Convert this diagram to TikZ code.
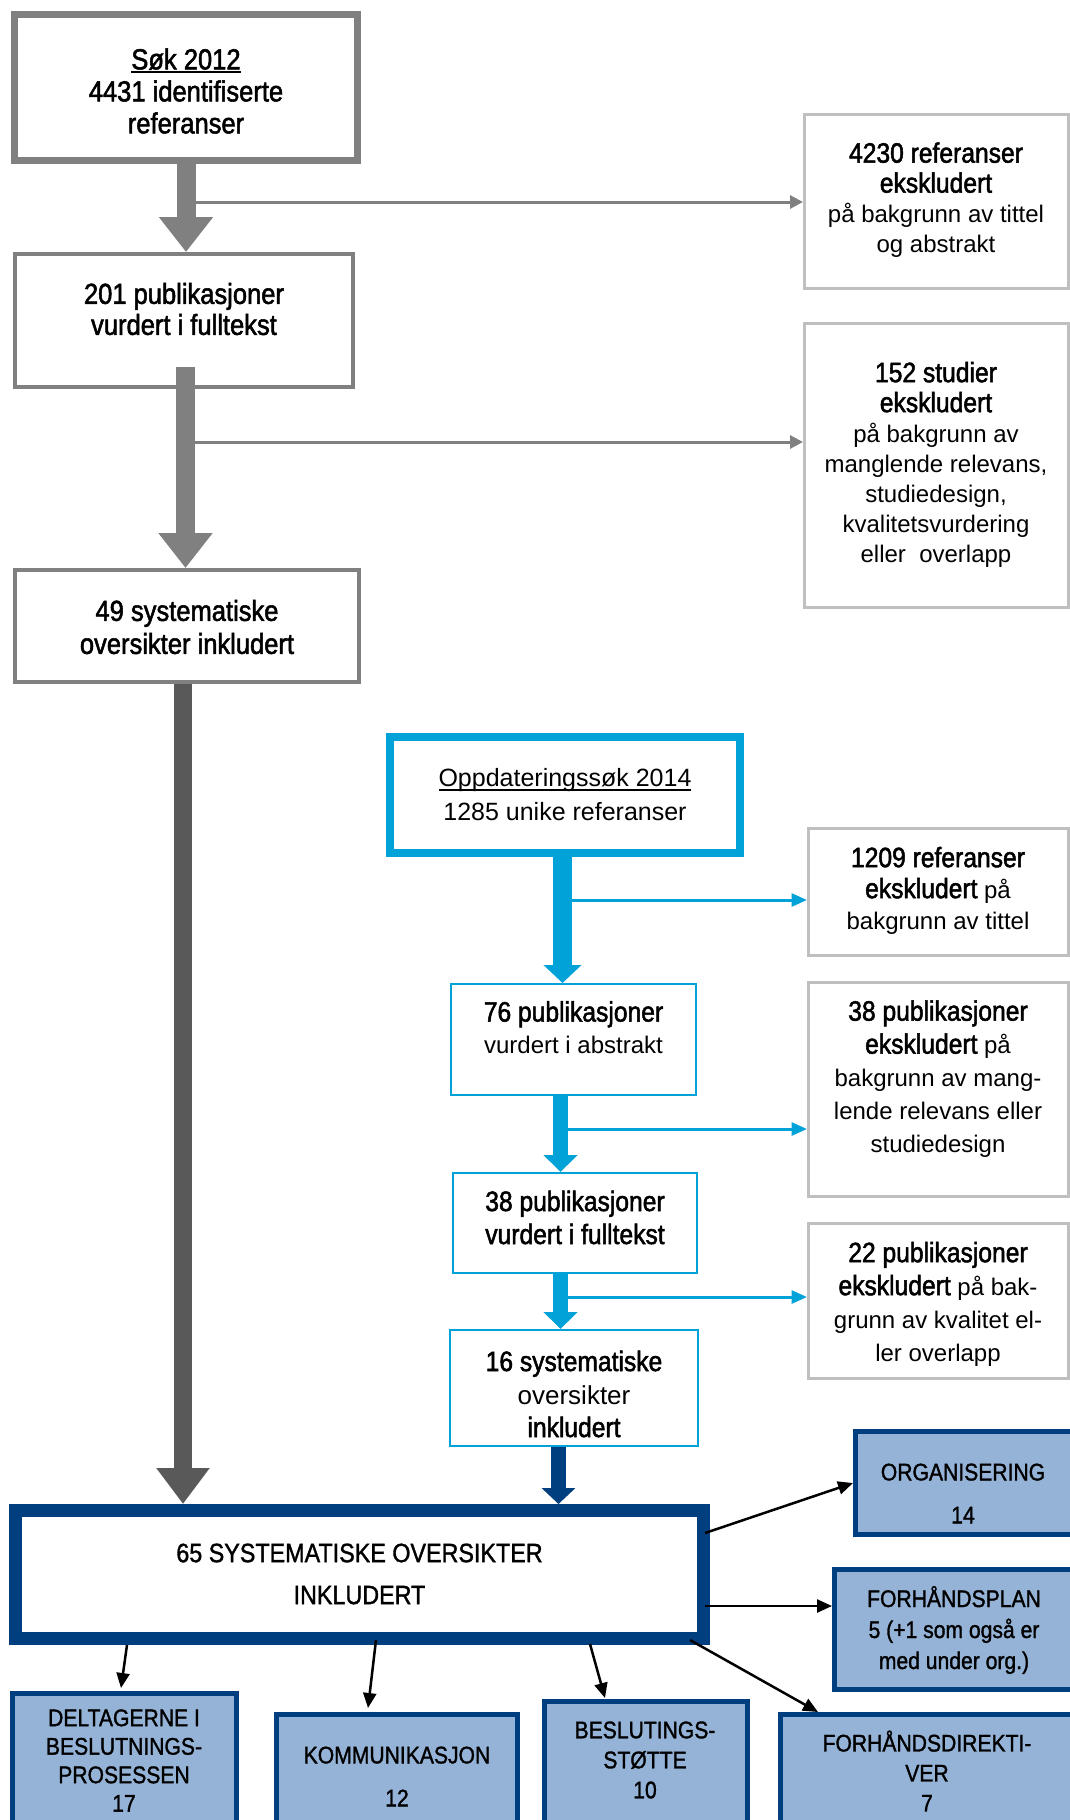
\documentclass[tikz,border=0pt]{standalone}
\usepackage{fontspec}
\setmainfont{Liberation Sans}
\newfontfamily\hvyfont[FakeStretch=0.88,FakeBold=1.8]{Liberation Sans}
\newfontfamily\catfont[FakeStretch=0.88,FakeBold=1.3]{Liberation Sans}
\usetikzlibrary{arrows.meta,calc}

\definecolor{midgray}{RGB}{128,128,128}
\definecolor{darkgraycol}{RGB}{89,89,89}
\definecolor{lightgraycol}{RGB}{191,191,191}
\definecolor{cyanblue}{RGB}{0,162,216}
\definecolor{navy}{RGB}{0,63,127}
\definecolor{catfill}{RGB}{149,179,215}

% underline with a visible rule
\newsavebox\undlbox
\newcommand\undl[1]{\sbox\undlbox{#1}\rlap{\rule[-4pt]{\wd\undlbox}{2pt}}\usebox\undlbox}
% condensed, larger face used for the leading words
\newcommand\hv[2][28]{{\hvyfont\fontsize{#1}{30}\selectfont #2}}

\tikzset{
  grbox/.style={draw=midgray, fill=white, line width=4pt, inner sep=0pt},
  exbox/.style={draw=lightgraycol, fill=white, line width=3pt, inner sep=0pt},
  cybox/.style={draw=cyanblue, fill=white, line width=2pt, inner sep=0pt},
  catbox/.style={draw=navy, fill=catfill, line width=5pt, inner sep=0pt},
  tx/.style={align=center, inner sep=0pt, font=\fontsize{24}{#1}\selectfont},
  ctx/.style={align=center, inner sep=0pt, font=\catfont\fontsize{24}{#1}\selectfont},
  grayflow/.style={midgray, line width=19pt, -{Triangle[length=35pt,width=52pt]}},
  darkflow/.style={darkgraycol, line width=18.5pt, -{Triangle[length=36pt,width=51pt]}},
  cyflowA/.style={cyanblue, line width=19pt, -{Triangle[length=18pt,width=37pt]}},
  cyflowB/.style={cyanblue, line width=15.5pt, -{Triangle[length=17pt,width=33pt]}},
  navyflow/.style={navy, line width=15pt, -{Triangle[length=16pt,width=33pt]}},
  grthin/.style={midgray, line width=3pt, -{Triangle[length=13pt,width=13pt]}},
  cythin/.style={cyanblue, line width=3pt, -{Triangle[length=15.5pt,width=13pt]}},
  catarrow/.style={black, line width=2.5pt, -{Triangle[length=15pt,width=13pt]}},
}

\begin{document}
\begin{tikzpicture}[x=1pt, y=-1pt]
\useasboundingbox (0,0) rectangle (1069,1820);
\fill[white] (0,0) rectangle (1069,1820);

% ---------- search 2012 ----------
\node[grbox, line width=7pt, minimum width=343pt, minimum height=146pt] (sok) at (186,87.5) {};
\node[tx=32] (sokt) at (186,91) {\hv[29]{\undl{Søk 2012}}\\\hv[29]{4431 identifiserte}\\\hv[29]{referanser}};

\node[grbox, minimum width=338pt, minimum height=133pt] (p201) at (184,320.5) {};
\node[tx=31] (p201t) at (184,309) {\hv[29]{201 publikasjoner}\\\hv[29]{vurdert i fulltekst}};

\node[grbox, minimum width=344pt, minimum height=112pt] (p49) at (187,626) {};
\node[tx=33] (p49t) at (187,627) {\hv[29]{49 systematiske}\\\hv[29]{oversikter inkludert}};

\node[exbox, minimum width=263.5pt, minimum height=174pt] (ex1) at (936.25,201.5) {};
\node[tx=30] (ex1t) at (936,200) {\hv{4230 referanser}\\\hv{ekskludert}\\på bakgrunn av tittel\\og abstrakt};

\node[exbox, minimum width=263.5pt, minimum height=284pt] (ex2) at (936.25,465.5) {};
\node[tx=30] (ex2t) at (936,464.5) {\hv{152 studier}\\\hv{ekskludert}\\på bakgrunn av\\manglende relevans,\\studiedesign,\\kvalitetsvurdering\\eller~ overlapp};

% ---------- update search 2014 ----------
\node[cybox, line width=8pt, minimum width=350pt, minimum height=116pt] (upd) at (565,795) {};
\node[align=center, inner sep=0pt, font=\fontsize{25}{34}\selectfont] (updt) at (565,795) {\undl{Oppdateringssøk 2014}\\1285 unike referanser};

\node[exbox, minimum width=259.5pt, minimum height=127pt] (ex3) at (938.25,892) {};
\node[tx=31] (ex3t) at (938,890.5) {\hv{1209 referanser}\\\hv{ekskludert} på\\bakgrunn av tittel};

\node[cybox, minimum width=245pt, minimum height=111pt] (p76) at (573.5,1039.5) {};
\node[tx=32] (p76t) at (573.5,1027.5) {\hv{76 publikasjoner}\\vurdert i abstrakt};

\node[exbox, minimum width=259.5pt, minimum height=214pt] (ex4) at (938.25,1089.5) {};
\node[tx=33] (ex4t) at (938,1079) {\hv{38 publikasjoner}\\\hv{ekskludert} på\\bakgrunn av mang-\\lende relevans eller\\studiedesign};

\node[cybox, minimum width=244pt, minimum height=100pt] (p38) at (575,1223) {};
\node[tx=33] (p38t) at (575,1217.5) {\hv{38 publikasjoner}\\\hv{vurdert i fulltekst}};

\node[exbox, minimum width=259.5pt, minimum height=155pt] (ex5) at (938.25,1301) {};
\node[tx=33] (ex5t) at (938,1304) {\hv{22 publikasjoner}\\\hv{ekskludert} på bak-\\grunn av kvalitet el-\\ler overlapp};

\node[cybox, minimum width=248pt, minimum height=116pt] (p16) at (574,1388) {};
\node[tx=33] (p16t) at (574,1394) {\hv{16 systematiske}\\{\fontsize{26}{30}\selectfont oversikter}\\\hv{inkludert}};

% ---------- combined result ----------
\node[draw=navy, fill=white, line width=13pt, inner sep=0pt, minimum width=688pt, minimum height=128pt] (all65) at (359.5,1574.5) {};
\node[align=center, inner sep=0pt, font=\catfont\fontsize{26.5}{42}\selectfont] (all65t) at (359.5,1574) {65 SYSTEMATISKE OVERSIKTER\\INKLUDERT};

% ---------- themes ----------
\node[catbox, minimum width=216.5pt, minimum height=103pt] (orgbox) at (963.75,1483) {};
\node[ctx=43] (orgt) at (963,1493.5) {ORGANISERING\\14};

\node[catbox, minimum width=237.5pt, minimum height=120pt] (planbox) at (953.25,1629.5) {};
\node[ctx=31] (plant) at (954,1630) {FORHÅNDSPLAN\\5 (+1 som også er\\med under org.)};

\node[catbox, minimum width=224pt, minimum height=146.5pt] (delbox) at (124.5,1766.75) {};
\node[ctx=28.5] (delt) at (124,1760.5) {DELTAGERNE I\\BESLUTNINGS-\\PROSESSEN\\17};

\node[catbox, minimum width=241pt, minimum height=125.5pt] (kombox) at (397,1777.25) {};
\node[ctx=43] (komt) at (397,1776.5) {KOMMUNIKASJON\\12};

\node[catbox, minimum width=203pt, minimum height=138.5pt] (beslbox) at (646,1770.75) {};
\node[ctx=30] (beslt) at (645,1760) {BESLUTINGS-\\STØTTE\\10};

\node[catbox, minimum width=291.5pt, minimum height=125.5pt] (dirbox) at (926.25,1777.25) {};
\node[ctx=30] (dirt) at (927,1771) {FORHÅNDSDIREKTI-\\VER\\7};

% ---------- main flow ----------
\draw[grayflow] (sok.south) -- (sok.south |- p201.north);
\coordinate (s2) at (185.5,367);
\draw[grayflow] (s2) -- (s2 |- p49.north);
\draw[darkflow] ([xshift=-4pt]p49.south) -- ([xshift=-4pt]p49.south |- all65.north);

\draw[cyflowA] ([xshift=-2.5pt]upd.south) -- ([xshift=-2.5pt]upd.south |- p76.north);
\draw[cyflowB] ([xshift=-13pt]p76.south) -- ([xshift=-13pt]p76.south |- p38.north);
\draw[cyflowB] ([xshift=-14.5pt]p38.south) -- ([xshift=-14.5pt]p38.south |- p16.north);
\draw[navyflow] ([xshift=-15.5pt]p16.south) -- ([xshift=-15.5pt]p16.south |- all65.north);

% ---------- exclusions ----------
\coordinate (g1) at (196,202);
\coordinate (g2) at (195,442);
\draw[grthin] (g1) -- (g1 -| ex1.west);
\draw[grthin] (g2) -- (g2 -| ex2.west);
\coordinate (c1) at (572,900);
\coordinate (c2) at (568,1129);
\coordinate (c3) at (568,1297);
\draw[cythin] (c1) -- (c1 -| ex3.west);
\draw[cythin] (c2) -- (c2 -| ex4.west);
\draw[cythin] (c3) -- (c3 -| ex5.west);

% ---------- themes from the combined result ----------
\coordinate (o1) at ($(all65.east)+(-5,-41.5)$);
\coordinate (o2) at ($(all65.east)+(-5,31.5)$);
\draw[catarrow] (o1) -- (orgbox.west);
\draw[catarrow] (o2) -- (o2 -| planbox.west);
\draw[catarrow] ($(all65.south east)+(-20,-5)$) -- ($(dirbox.north west)+(40,0)$);
\draw[catarrow] ($(all65.south west)+(118,0)$) -- ($(delbox.north)+(-3.5,-3)$);
\draw[catarrow] ($(all65.south)+(16.5,-5)$) -- ($(kombox.north west)+(94,-4)$);
\draw[catarrow] ($(all65.south)+(230.5,-1)$) -- ($(beslbox.north west)+(63,-1)$);
\end{tikzpicture}
\end{document}
